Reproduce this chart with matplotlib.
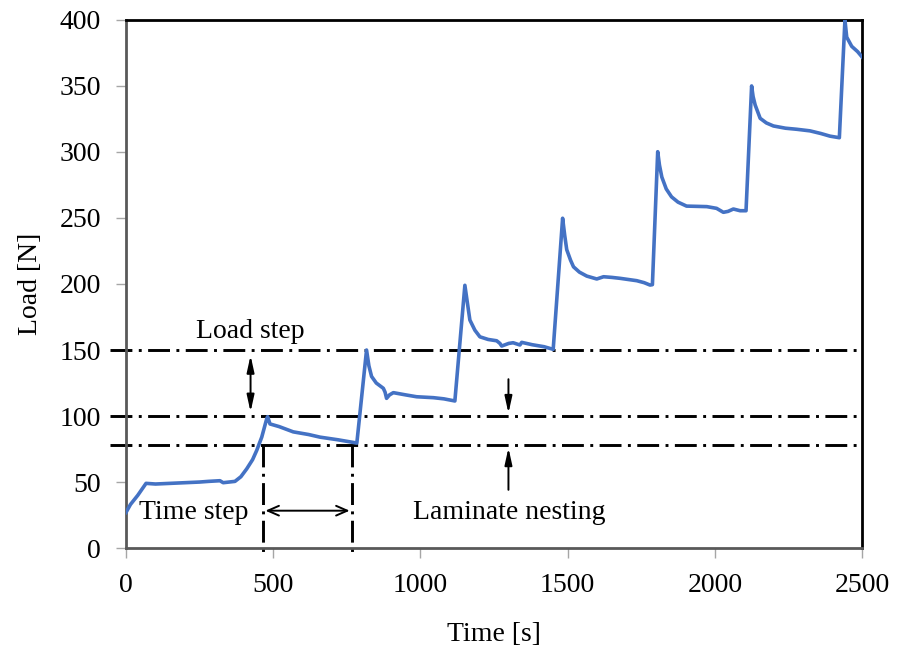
import numpy as np
import matplotlib.pyplot as plt

plt.rcParams['font.family'] = ['Liberation Serif', 'DejaVu Serif']

# load history
time_s = [0, 15, 40, 68, 100, 150, 200, 250, 280, 319, 330, 350, 370, 390, 410, 430,
          444, 461, 478, 481, 489, 520, 568, 620, 659, 720, 772, 784,
          817, 825, 834, 850, 874, 880, 885, 895, 908, 950, 987, 1044, 1080, 1117,
          1151, 1160, 1168, 1185, 1202, 1230, 1259, 1270, 1276, 1300, 1315, 1338, 1344, 1380, 1420, 1451,
          1483, 1490, 1497, 1510, 1520, 1540, 1565, 1599, 1622, 1650, 1678, 1735, 1760, 1780, 1788,
          1806, 1812, 1820, 1835, 1853, 1875, 1904, 1940, 1973, 2006, 2029, 2045, 2063, 2086, 2106,
          2125, 2130, 2137, 2154, 2175, 2199, 2240, 2278, 2323, 2360, 2391, 2423,
          2442, 2448, 2465, 2485, 2500]
load_n = [27, 33, 40, 49, 48.5, 49, 49.5, 50, 50.5, 51, 49.5, 50, 50.5, 54, 60, 67,
          74, 84, 98, 99.5, 94, 92, 88, 86, 84, 82, 80, 79.5,
          150, 138, 130, 125, 121, 118, 113.4, 116, 117.7, 116, 114.6, 113.9, 113, 111.4,
          199, 185, 172.7, 165, 160, 158, 157, 155, 153, 155, 155.5, 153.8, 155.8, 154, 152.5, 150.5,
          249.8, 237, 226, 218, 213, 209, 206, 203.8, 205.5, 205, 204.3, 202.5, 201, 199.2, 199.5,
          300.2, 290, 281, 272, 266, 262, 259, 258.8, 258.6, 257.3, 254.3, 255, 256.8, 255.5, 255.5,
          350, 342, 335.6, 325.5, 322, 319.7, 318, 317.2, 316, 314, 312, 310.8,
          400, 387, 380, 376, 372]

ref_levels = [150, 100, 78]
step_times = [464, 769]

fig = plt.figure(figsize=(8.97, 6.54), dpi=100)
ax = fig.add_axes([0.1405, 0.162, 0.8205, 0.8075])

ax.plot(time_s, load_n, color='#4472C4', lw=2.6, zorder=3, solid_joinstyle='round')

dashdot = (0, (7.5, 2.2, 1.0, 2.2))
for lv in ref_levels:
    ax.plot([-54, 2500], [lv, lv], color='black', lw=2.1, ls=dashdot, clip_on=False, zorder=2)
for ts in step_times:
    ax.plot([ts, ts], [78, -5], color='black', lw=2.1, ls=dashdot, clip_on=False, zorder=2)

# annotations
ax.annotate('', xy=(423, 101), xytext=(423, 148),
            arrowprops=dict(arrowstyle='<|-|>,head_length=1.0,head_width=0.22', color='black', lw=1.4))
ax.text(422, 164, 'Load step', ha='center', va='center', fontsize=20)

ax.annotate('', xy=(464, 28.3), xytext=(769, 28.3),
            arrowprops=dict(arrowstyle='<->,head_length=0.8,head_width=0.35', color='black', lw=1.4))
ax.text(229, 27, 'Time step', ha='center', va='center', fontsize=20)

ax.annotate('', xy=(1299, 100), xytext=(1299, 130),
            arrowprops=dict(arrowstyle='-|>,head_length=1.0,head_width=0.22', color='black', lw=1.4))
ax.annotate('', xy=(1299, 78), xytext=(1299, 42),
            arrowprops=dict(arrowstyle='-|>,head_length=1.0,head_width=0.22', color='black', lw=1.4))
ax.text(1301, 27, 'Laminate nesting', ha='center', va='center', fontsize=20)

ax.set_xlim(0, 2500)
ax.set_ylim(0, 400)
ax.set_xticks(np.arange(0, 2501, 500))
ax.set_yticks(np.arange(0, 401, 50))
ax.tick_params(axis='both', direction='out', length=7, width=1, color='#A6A6A6',
               labelsize=20, pad=11)
ax.set_xlabel('Time [s]', fontsize=20, labelpad=17)
ax.set_ylabel('Load [N]', fontsize=20, labelpad=12)

for side in ['top', 'right']:
    ax.spines[side].set_color('black')
    ax.spines[side].set_linewidth(2)
for side in ['left', 'bottom']:
    ax.spines[side].set_color('#595959')
    ax.spines[side].set_linewidth(2)

fig.savefig('out.png', dpi=100)
